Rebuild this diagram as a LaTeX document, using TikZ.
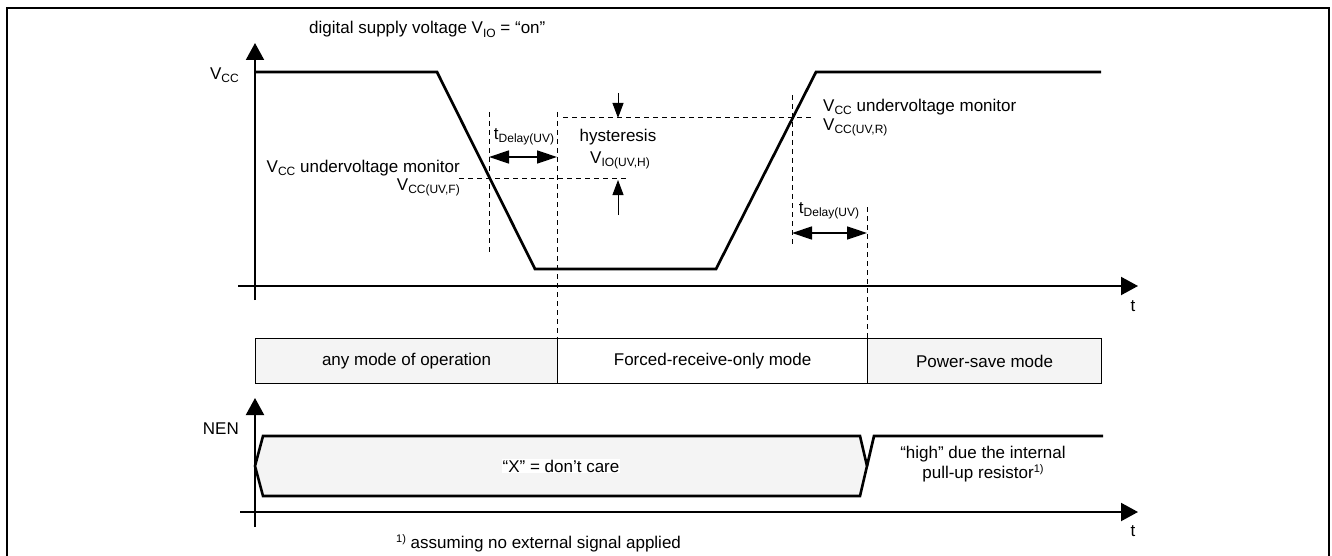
\documentclass[tikz,border=0pt]{standalone}
\usepackage{fontspec}
\setmainfont{Liberation Sans}
\usetikzlibrary{arrows.meta}
\newcommand{\sbs}[1]{\raisebox{-0.35ex}{\fontsize{12}{12}\selectfont #1}}
\newcommand{\sps}[1]{\raisebox{0.7ex}{\fontsize{11}{11}\selectfont #1}}

\begin{document}
\begin{tikzpicture}[
    x=1pt, y=-1pt,
    every node/.style={font=\fontsize{17}{20}\selectfont, inner sep=1pt},
    axis/.style={line width=2pt, -{Triangle[width=18pt,length=17pt]}},
    signal/.style={line width=2.7pt, line join=miter},
    guide/.style={line width=1pt, dash pattern=on 5pt off 4pt},
    span/.style={line width=1.4pt, {Triangle[width=13pt,length=20pt]}-{Triangle[width=13pt,length=20pt]}},
    hyst/.style={line width=1pt, -{Triangle[width=11pt,length=15pt]}},
    modebox/.style={draw, line width=1.2pt, minimum height=45pt, anchor=north west, inner sep=0pt},
    bus/.style={draw, line width=2.6pt, line join=miter, fill=gray!9}
]
\useasboundingbox (0,0) rectangle (1332,556);

% Outer frame (bottom edge runs off the page)
\draw[line width=1.5pt] (7,560) -- (7,8) -- (1329,8) -- (1329,560);

% Title
\node[anchor=base west] (title) at (308,34) {digital supply voltage V\sbs{IO} = “on”};

% Upper chart: axes
\coordinate (vccTop) at (255,43);
\coordinate (vccBot) at (255,300);
\coordinate (tL) at (238,286);
\coordinate (tR) at (1138,286);
\draw[axis] (vccBot) -- (vccTop);
\draw[axis] (tL) -- (tR);
\node (tTop) at (1133,306) {t};
\node[anchor=east] (vcc) at (240,75) {V\sbs{CC}};

% Upper chart: supply voltage curve
\coordinate (v0) at (255,72);
\coordinate (fallTop) at (437,72);
\coordinate (fallBot) at (535,269);
\coordinate (riseBot) at (716,269);
\coordinate (riseTop) at (816,72);
\coordinate (v1) at (1101,72);
\draw[signal] (v0) -- (fallTop) -- (fallBot) -- (riseBot) -- (riseTop) -- (v1);

% Threshold and timing guides
\coordinate (fallA) at (489,112);
\coordinate (fallB) at (489,252);
\coordinate (frcA) at (557,112);
\coordinate (frcB) at (557,338);
\coordinate (thrFa) at (459,179);
\coordinate (thrFb) at (626,179);
\coordinate (thrRa) at (563,118);
\coordinate (thrRb) at (812,118);
\coordinate (riseA) at (792,95);
\coordinate (riseB) at (792,245);
\coordinate (psA) at (867,207);
\coordinate (psB) at (867,338);
\draw[guide] (fallA) -- (fallB);
\draw[guide] (frcA) -- (frcB);
\draw[guide] (thrFa) -- (thrFb);
\draw[guide] (thrRa) -- (thrRb);
\draw[guide] (riseA) -- (riseB);
\draw[guide] (psA) -- (psB);

% Delay times
\coordinate (dlyL1) at (489,157);
\coordinate (dlyL2) at (557,157);
\coordinate (dlyR1) at (792,233);
\coordinate (dlyR2) at (867,233);
\draw[span] (dlyL1) -- (dlyL2);
\draw[span] (dlyR1) -- (dlyR2);
\node (tdL) at (524,137) {t\sbs{Delay(UV)}};
\node (tdR) at (829,211) {t\sbs{Delay(UV)}};

% Hysteresis
\coordinate (hyA) at (618,93);
\coordinate (hyB) at (618,118);
\coordinate (hyC) at (618,215);
\coordinate (hyD) at (618,180);
\draw[hyst] (hyA) -- (hyB);
\draw[hyst] (hyC) -- (hyD);
\node (hys) at (618,137) {hysteresis};
\node (vioh) at (620,160) {V\sbs{IO(UV,H)}};

% Threshold labels
\node[anchor=east] (uvFa) at (461,168) {V\sbs{CC} undervoltage monitor};
\node[anchor=east] (uvFb) at (461,187) {V\sbs{CC(UV,F)}};
\node[anchor=west] (uvRa) at (822,107) {V\sbs{CC} undervoltage monitor};
\node[anchor=west] (uvRb) at (822,127) {V\sbs{CC(UV,R)}};

% Operating modes
\node[modebox, fill=gray!9, minimum width=302pt] (anymode) at (255,338) {any mode of operation};
\node[modebox, minimum width=310pt] (frcmode) at (557,338) {Forced-receive-only mode};
\node[modebox, fill=gray!9, minimum width=234pt] (psmode) at (867,338) {Power-save mode};

% Lower chart: axes
\coordinate (nenTop) at (255,398);
\coordinate (nenBot) at (255,527);
\coordinate (tL2) at (240,512);
\coordinate (tR2) at (1138,512);
\draw[axis] (nenBot) -- (nenTop);
\draw[axis] (tL2) -- (tR2);
\node (tBot) at (1133,531) {t};
\node[anchor=east] (nen) at (240,429) {NEN};

% Lower chart: NEN signal
\coordinate (bL) at (255,466);
\coordinate (bTL) at (263,436);
\coordinate (bTR) at (860,436);
\coordinate (bR) at (867,466);
\coordinate (bBR) at (860,496);
\coordinate (bBL) at (263,496);
\coordinate (hiA) at (874,436);
\coordinate (hiB) at (1103,436);
\draw[bus] (bL) -- (bTL) -- (bTR) -- (bR) -- (bBR) -- (bBL) -- cycle;
\draw[signal] (bR) -- (hiA) -- (hiB);
\node[fill=white] (dontcare) at (561,466) {“X” = don’t care};
\node[align=center] (pullup) at (983,464) {“high” due the internal\\pull-up resistor\sps{1)}};

% Footnote
\node[anchor=west] (note) at (395,543) {\sps{1)} assuming no external signal applied};

\end{tikzpicture}
\end{document}
